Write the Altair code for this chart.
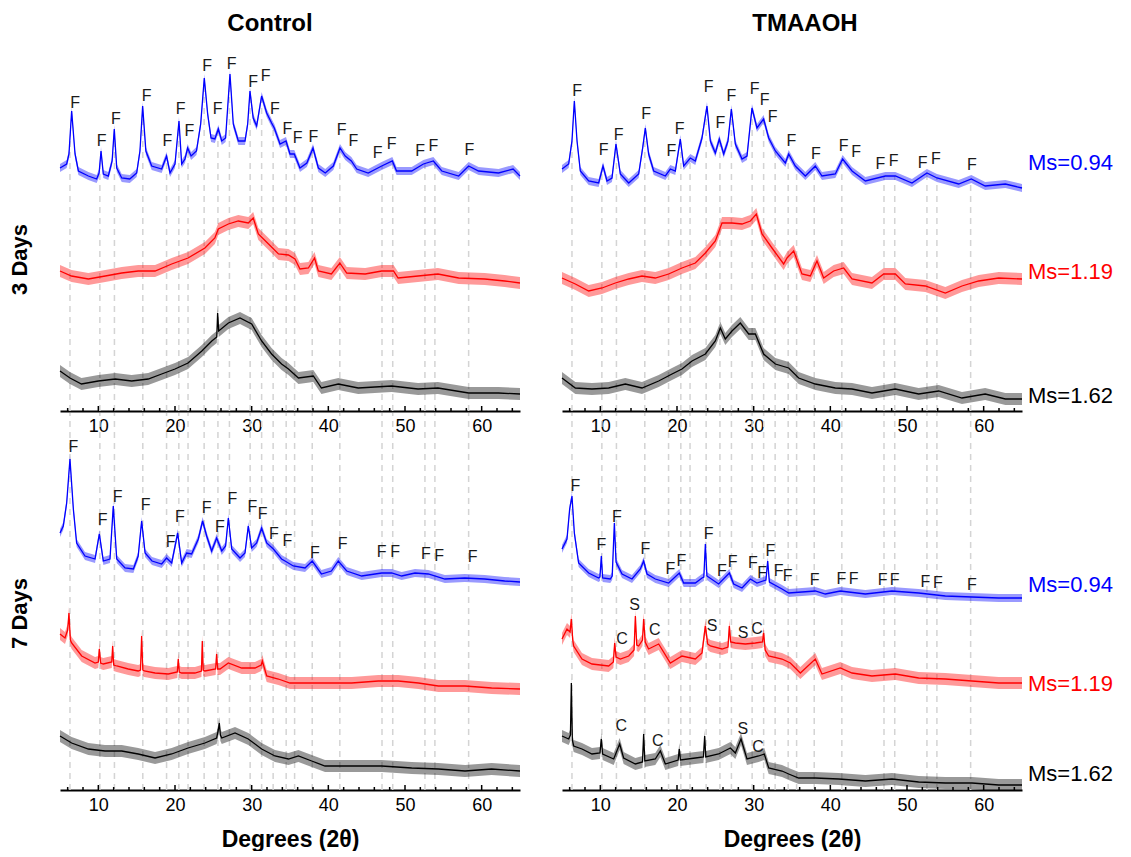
import altair as alt
import pandas as pd

FONT = "Liberation Sans"
W, H = 460, 374

# ---------------- data ----------------
# 2-theta positions of the faujasite (F) reference lines
F_LINES = [6.3, 10.2, 12.1, 15.8, 18.9, 20.5, 21.7, 23.8, 25.6, 27.1, 29.8, 31.3,
           32.8, 34.5, 35.6, 37.9, 41.5, 47.0, 48.4, 52.6, 53.9, 58.3]
MAJOR_TICKS = [10, 20, 30, 40, 50, 60]
MINOR_TICKS = [6, 8, 12, 14, 16, 18, 22, 24, 26, 28, 32, 34, 36, 38, 42, 44, 46, 48,
               52, 54, 56, 58, 62, 64]

MS = ["Ms=0.94", "Ms=1.19", "Ms=1.62"]
MS_COLORS = ["#0000ff", "#ff0000", "#000000"]
NOISE = [4, 6, 6]  # half-width of the noise band of each trace

# stacked intensities (arbitrary units) : (2theta, intensity)
CTL3_094 = [(5.0, 243), (5.87, 247), (6.17, 257), (6.52, 300), (6.96, 257), (7.4, 240), (8.7, 235),
            (9.78, 232), (10.1, 238), (10.35, 260), (10.65, 237), (11.3, 235), (11.8, 250), (12.08, 282),
            (12.4, 243), (13.05, 233), (14.1, 232), (15.0, 238), (15.43, 260), (15.78, 305), (16.2, 260),
            (16.96, 245), (18.26, 242), (18.9, 255), (19.35, 238), (20.0, 247), (20.52, 290), (20.87, 247),
            (21.3, 252), (21.65, 263), (22.1, 255), (22.8, 260), (23.35, 287), (23.82, 333), (24.26, 297),
            (24.7, 273), (25.2, 272), (25.65, 282), (26.1, 270), (26.6, 273), (27.17, 337), (27.6, 287),
            (28.26, 270), (29.13, 270), (29.48, 287), (29.78, 320), (30.2, 293), (30.65, 285), (31.3, 315),
            (31.96, 298), (32.6, 288), (32.95, 283), (33.7, 267), (34.48, 270), (35.0, 257), (35.56, 257),
            (36.3, 243), (37.2, 248), (38.0, 263), (38.7, 243), (39.6, 238), (40.65, 245), (41.52, 263),
            (42.2, 255), (43.0, 250), (43.7, 242), (45.2, 238), (46.96, 245), (48.35, 250), (48.9, 240),
            (50.87, 240), (52.4, 247), (53.7, 250), (54.8, 240), (57.0, 235), (58.3, 245), (59.6, 240),
            (62.2, 238), (64.1, 242), (65.0, 235)]
CTL3_119 = [(5.0, 140), (6.5, 135), (8.7, 132), (10.9, 135), (13.05, 138), (15.2, 140), (17.4, 140),
            (19.57, 147), (21.7, 153), (23.9, 163), (25.2, 173), (25.65, 182), (26.96, 187), (28.26, 190),
            (29.56, 188), (30.2, 193), (30.87, 177), (32.2, 167), (33.5, 157), (34.8, 156), (35.65, 152),
            (36.3, 142), (37.4, 143), (38.2, 153), (38.7, 140), (40.4, 137), (41.5, 148), (42.4, 138),
            (44.8, 137), (46.96, 140), (48.5, 140), (49.1, 133), (51.7, 135), (54.3, 137), (57.0, 133),
            (60.4, 132), (63.0, 130), (65.0, 128)]
CTL3_162 = [(5.0, 40), (6.3, 33), (7.8, 27), (10.0, 30), (12.2, 32), (14.35, 30), (16.5, 32), (18.26, 37),
            (20.0, 42), (21.7, 48), (23.5, 60), (24.8, 70), (25.45, 74), (25.56, 98), (25.7, 80),
            (26.96, 88), (28.48, 93), (30.0, 87), (31.3, 70), (32.6, 57), (33.9, 47), (34.8, 42),
            (36.1, 33), (38.04, 35), (39.1, 23), (41.3, 27), (43.9, 23), (48.26, 25), (51.7, 22),
            (54.3, 23), (58.3, 18), (62.2, 18), (65.0, 17)]

TMA3_094 = [(5.0, 242), (5.87, 247), (6.3, 270), (6.61, 310), (6.96, 270), (7.39, 240), (8.48, 230),
            (9.78, 228), (10.35, 245), (10.87, 230), (11.52, 233), (12.04, 267), (12.61, 237), (13.7, 228),
            (15.0, 237), (15.52, 263), (15.87, 283), (16.3, 257), (16.96, 240), (18.48, 235), (19.13, 242),
            (19.78, 240), (20.43, 272), (20.87, 245), (21.74, 253), (22.39, 250), (23.26, 273), (23.91, 305),
            (24.35, 270), (25.0, 258), (25.52, 272), (26.09, 257), (26.65, 270), (27.09, 302), (27.61, 267),
            (28.48, 252), (29.13, 255), (29.78, 303), (30.43, 283), (31.3, 292), (31.96, 273), (32.83, 260),
            (34.13, 248), (34.57, 257), (35.43, 245), (36.74, 235), (38.04, 245), (38.91, 235), (40.65, 237),
            (41.6, 252), (42.83, 240), (44.57, 230), (47.17, 235), (48.48, 235), (50.65, 228), (52.6, 238),
            (53.91, 233), (56.74, 227), (58.39, 232), (60.2, 225), (62.83, 227), (65.0, 223)]
TMA3_119 = [(5.0, 133), (6.74, 127), (8.48, 120), (10.22, 123), (11.96, 128), (13.7, 132), (15.43, 135),
            (17.17, 133), (18.91, 137), (20.65, 143), (22.39, 148), (23.7, 158), (25.0, 170), (25.87, 188),
            (27.17, 188), (28.48, 187), (29.57, 190), (30.35, 197), (31.09, 177), (32.39, 163), (33.91, 147),
            (34.35, 153), (35.22, 160), (36.3, 137), (37.39, 135), (38.26, 150), (39.13, 133), (40.43, 140),
            (41.74, 143), (42.83, 132), (45.43, 128), (46.96, 137), (48.48, 137), (49.78, 127), (52.39, 125),
            (55.0, 118), (57.17, 125), (59.35, 130), (61.96, 133), (65.0, 132)]
TMA3_162 = [(5.0, 33), (6.74, 23), (8.91, 22), (11.09, 23), (13.26, 27), (15.43, 23), (17.61, 30),
            (19.35, 37), (20.65, 42), (21.96, 50), (23.7, 57), (25.0, 70), (25.65, 83), (26.3, 72),
            (27.17, 80), (28.26, 88), (29.35, 77), (30.22, 77), (31.3, 57), (32.83, 47), (34.57, 43),
            (35.87, 33), (38.04, 27), (40.65, 23), (42.83, 22), (45.43, 18), (48.48, 22), (51.52, 17),
            (54.13, 20), (57.17, 13), (60.2, 17), (62.83, 12), (65.0, 12)]

CTL7_094 = [(5.0, 257), (5.43, 264), (5.87, 287), (6.3, 331), (6.74, 281), (7.17, 247), (8.26, 234),
            (9.57, 231), (10.13, 256), (10.65, 229), (11.52, 231), (11.95, 284), (12.4, 231), (13.48, 222),
            (14.57, 221), (15.2, 234), (15.65, 269), (16.1, 237), (17.0, 229), (18.26, 226), (18.9, 232),
            (19.57, 227), (20.35, 257), (20.87, 227), (21.52, 237), (22.17, 236), (23.04, 251), (23.6, 269),
            (24.13, 254), (24.78, 239), (25.43, 252), (26.1, 239), (26.6, 244), (26.96, 272), (27.4, 241),
            (28.48, 232), (29.13, 237), (29.56, 264), (30.0, 242), (30.65, 247), (31.3, 262), (31.96, 247),
            (32.83, 241), (33.9, 231), (34.35, 229), (35.43, 224), (36.96, 222), (37.9, 229), (39.1, 216),
            (40.4, 219), (41.3, 229), (42.4, 219), (44.35, 214), (46.96, 217), (48.26, 217), (49.57, 214),
            (51.3, 217), (53.04, 216), (55.2, 211), (57.8, 212), (60.4, 211), (63.0, 209), (65.0, 208)]
CTL7_119 = [(5.0, 156), (5.65, 152), (6.0, 160), (6.17, 177), (6.35, 150), (6.52, 147), (7.83, 134),
            (9.57, 127), (10.0, 128), (10.13, 141), (10.3, 127), (10.65, 126), (11.75, 128), (11.87, 144),
            (12.0, 125), (12.4, 124), (13.9, 121), (15.2, 119), (15.5, 120), (15.65, 154), (15.8, 120),
            (16.0, 119), (17.4, 117), (19.13, 116), (20.3, 118), (20.43, 131), (20.56, 118), (20.87, 117),
            (22.6, 117), (23.45, 119), (23.56, 149), (23.68, 120), (23.9, 119), (25.3, 121), (25.43, 136),
            (25.56, 121), (25.87, 121), (26.96, 127), (28.7, 122), (30.43, 122), (31.25, 125), (31.39, 129),
            (31.96, 114), (33.48, 111), (35.0, 107), (36.96, 107), (39.57, 107), (43.04, 107), (46.52, 109),
            (49.13, 109), (51.74, 107), (54.35, 104), (57.83, 104), (61.3, 102), (65.0, 101)]
CTL7_162 = [(5.0, 54), (6.52, 47), (8.7, 41), (10.87, 39), (13.05, 39), (15.2, 36), (17.4, 32), (19.57, 36),
            (21.7, 42), (23.9, 47), (25.43, 52), (25.65, 60), (25.78, 67), (25.92, 55), (26.1, 52),
            (27.83, 57), (29.56, 51), (31.3, 41), (33.04, 34), (34.8, 31), (36.1, 34), (37.83, 29),
            (39.57, 24), (43.04, 24), (46.96, 24), (50.87, 22), (54.35, 21), (57.83, 19), (61.3, 21),
            (65.0, 19)]

TMA7_094 = [(5.0, 241), (5.65, 251), (6.0, 281), (6.3, 294), (6.61, 257), (7.17, 227), (8.48, 217),
            (9.78, 212), (9.95, 213), (10.13, 234), (10.3, 212), (11.3, 211), (11.55, 214), (11.83, 267),
            (12.05, 228), (12.83, 216), (14.13, 211), (15.22, 221), (15.65, 229), (16.09, 216), (17.17, 211),
            (18.91, 207), (20.3, 217), (20.87, 207), (22.39, 207), (23.26, 212), (23.5, 213), (23.7, 246),
            (23.9, 214), (25.43, 206), (26.83, 217), (27.39, 206), (28.48, 202), (29.57, 211), (30.43, 207),
            (31.6, 210), (31.83, 229), (32.05, 208), (33.7, 201), (34.57, 197), (38.04, 199), (39.35, 196),
            (41.3, 199), (44.57, 196), (48.04, 199), (51.52, 197), (55.0, 194), (58.48, 193), (61.96, 192),
            (65.0, 192)]
TMA7_119 = [(5.0, 151), (5.65, 161), (6.05, 158), (6.22, 171), (6.4, 150), (6.52, 144), (7.61, 131),
            (8.91, 126), (11.09, 124), (11.7, 128), (11.87, 147), (12.05, 133), (12.61, 131), (13.7, 134),
            (14.4, 140), (14.57, 174), (14.75, 145), (15.0, 144), (15.5, 150), (15.65, 171), (15.85, 148),
            (16.3, 141), (17.61, 146), (19.13, 127), (20.65, 134), (22.39, 131), (23.26, 137), (23.7, 164),
            (24.0, 146), (24.35, 144), (25.87, 141), (26.65, 143), (26.83, 164), (27.0, 148), (27.61, 147),
            (28.91, 146), (30.22, 147), (31.15, 148), (31.3, 157), (31.5, 140), (31.96, 134), (33.7, 131),
            (34.78, 127), (36.09, 117), (38.04, 131), (38.91, 116), (41.3, 122), (42.83, 117), (45.43, 114),
            (48.48, 116), (51.52, 112), (55.0, 111), (58.48, 109), (61.96, 107), (65.0, 107)]
TMA7_162 = [(5.0, 54), (5.87, 51), (6.1, 55), (6.22, 107), (6.35, 50), (6.52, 44), (7.61, 41), (8.91, 36),
            (9.95, 37), (10.13, 51), (10.3, 36), (11.74, 31), (12.52, 46), (13.04, 32), (14.57, 26),
            (15.5, 28), (15.65, 56), (15.8, 29), (17.17, 31), (17.83, 39), (18.48, 26), (20.15, 30),
            (20.3, 41), (20.45, 30), (22.39, 32), (23.45, 33), (23.61, 54), (23.75, 33), (25.43, 36),
            (26.96, 42), (27.61, 37), (28.35, 51), (29.13, 31), (30.65, 34), (31.39, 36), (31.96, 22),
            (33.7, 19), (34.57, 16), (35.87, 12), (38.04, 12), (41.09, 11), (44.57, 9), (48.04, 11),
            (51.52, 8), (55.0, 7), (58.48, 7), (61.96, 5), (65.0, 5)]

# phase labels: (text, 2theta, height)
CTL3_LABELS = [("F", 6.96, 308), ("F", 10.43, 270), ("F", 12.3, 292), ("F", 16.3, 315), ("F", 19.0, 270),
               ("F", 20.74, 302), ("F", 21.87, 280), ("F", 24.2, 345), ("F", 25.56, 302), ("F", 27.4, 347),
               ("F", 30.2, 329), ("F", 31.83, 335), ("F", 33.04, 302), ("F", 34.65, 282), ("F", 36.0, 273),
               ("F", 38.04, 274), ("F", 41.74, 281), ("F", 43.26, 270), ("F", 46.44, 258), ("F", 48.26, 267),
               ("F", 51.96, 260), ("F", 53.7, 265), ("F", 58.4, 261)]
TMA3_LABELS = [("F", 6.96, 320), ("F", 10.43, 261), ("F", 12.39, 276), ("F", 15.96, 297), ("F", 19.26, 260),
               ("F", 20.35, 282), ("F", 24.13, 324), ("F", 25.65, 288), ("F", 27.09, 315), ("F", 30.13, 322),
               ("F", 31.43, 311), ("F", 32.48, 294), ("F", 34.91, 270), ("F", 38.13, 257), ("F", 41.74, 265),
               ("F", 43.35, 259), ("F", 46.52, 247), ("F", 48.26, 250), ("F", 52.04, 248), ("F", 53.78, 252),
               ("F", 58.48, 246)]
CTL7_LABELS = [("F", 6.74, 343), ("F", 10.57, 270), ("F", 12.52, 293), ("F", 16.17, 285), ("F", 19.44, 248),
               ("F", 20.65, 273), ("F", 24.13, 282), ("F", 25.87, 263), ("F", 27.48, 291), ("F", 30.08, 283),
               ("F", 31.43, 276), ("F", 32.9, 256), ("F", 34.65, 249), ("F", 38.26, 237), ("F", 41.87, 246),
               ("F", 46.96, 238), ("F", 48.7, 238), ("F", 52.74, 236), ("F", 54.44, 234), ("F", 58.83, 233)]
TMA7_LABELS = [("F", 6.74, 304), ("F", 10.13, 245), ("F", 12.17, 273), ("F", 15.87, 241), ("F", 19.13, 221),
               ("F", 20.57, 229), ("F", 24.13, 256), ("F", 25.87, 219), ("F", 27.26, 228), ("F", 29.91, 227),
               ("F", 31.09, 217), ("F", 32.17, 239), ("F", 33.26, 219), ("F", 34.43, 214), ("F", 37.96, 210),
               ("F", 41.43, 211), ("F", 43.04, 211), ("F", 46.83, 210), ("F", 48.39, 210), ("F", 52.39, 208),
               ("F", 54.04, 207), ("F", 58.48, 205),
               ("C", 12.83, 151), ("S", 14.48, 185), ("C", 17.09, 160), ("S", 24.57, 164), ("S", 28.61, 157),
               ("C", 30.43, 161),
               ("C", 12.74, 64), ("C", 17.48, 49), ("S", 28.57, 61), ("C", 30.57, 43)]

# height at which each "Ms=" label sits at the right end of the traces
MS_LABEL_Y_3D = [248, 139, 15]
MS_LABEL_Y_7D = [205, 106, 16]

# ---------------- chart building ----------------
Y_MAX = 374
XS = alt.Scale(domain=[5, 65], nice=False, zero=False)
YS = alt.Scale(domain=[0, Y_MAX], nice=False, zero=False)
CS = alt.Scale(domain=MS, range=MS_COLORS)


def traces_df(series):
    rows = []
    for ms, pairs, nz in zip(MS, series, NOISE):
        for x, y in pairs:
            rows.append({"x": x, "y": y, "lo": y - nz, "hi": y + nz, "ms": ms})
    return pd.DataFrame(rows)


def panel(series, labels, ms_y, title, dx, ytitle, ytitle_y, xtitle, top):
    xaxis = alt.Axis(values=MAJOR_TICKS, title=xtitle, grid=False, ticks=False,
                     domainColor="black", domainWidth=2, labelFont=FONT, labelFontSize=18,
                     labelColor="black", labelPadding=6, labelFlush=False,
                     titleFont=FONT, titleFontSize=23, titleFontWeight="bold",
                     titleColor="black", titlePadding=14)
    if ytitle:
        yaxis = alt.Axis(title=ytitle, labels=False, ticks=False, domain=False, grid=False,
                         titleFont=FONT, titleFontSize=22, titleFontWeight="bold",
                         titleColor="black", titleX=-41, titleY=ytitle_y,
                         titleBaseline="middle", titleAlign="center")
    else:
        yaxis = None

    def X(f="x"):
        return alt.X(f + ":Q", scale=XS, axis=xaxis)

    def Y(f="y"):
        return alt.Y(f + ":Q", scale=YS, axis=yaxis, stack=None)

    tdf = traces_df(series)
    color = alt.Color("ms:N", scale=CS, legend=None)

    layers = []
    ref = alt.Chart(pd.DataFrame({"x": F_LINES})).mark_rule(
        color="#d4d4d4", strokeDash=[6, 5], strokeWidth=1.5
    ).encode(x=X(), y=alt.value(H), y2=alt.value(0 if top else -3))
    layers.append(ref)
    if top:
        # white cover above the top trace, so the reference lines stop at it
        mask = alt.Chart(pd.DataFrame(series[0], columns=["x", "y"])).mark_area(
            fill="white", fillOpacity=1, opacity=1
        ).encode(x=X(), y=Y(), y2=alt.datum(Y_MAX))
        layers.append(mask)
    band = alt.Chart(tdf).mark_area(opacity=0.4, interpolate="linear").encode(
        x=X(), y=Y("lo"), y2="hi:Q", color=color, detail="ms:N")
    line = alt.Chart(tdf).mark_line(strokeWidth=1.3).encode(
        x=X(), y=Y(), color=color, detail="ms:N")
    layers += [band, line]

    major = alt.Chart(pd.DataFrame({"x": MAJOR_TICKS})).mark_rule(color="black", strokeWidth=1.5).encode(
        x=X(), y=alt.value(H), y2=alt.value(H - 5))
    minor = alt.Chart(pd.DataFrame({"x": MINOR_TICKS})).mark_rule(color="black", strokeWidth=1.5).encode(
        x=X(), y=alt.value(H), y2=alt.value(H - 3))
    layers += [major, minor]

    ldf = pd.DataFrame(labels, columns=["t", "x", "y"])
    lab = alt.Chart(ldf).mark_text(font=FONT, fontSize=16, color="#1a1a1a", align="center",
                                   baseline="middle").encode(x=X(), y=Y(), text="t:N")
    layers.append(lab)

    if ms_y is not None:
        mdf = pd.DataFrame({"ms": MS, "y": ms_y})
        ms_lab = alt.Chart(mdf).mark_text(font=FONT, fontSize=22, align="left",
                                          baseline="middle").encode(
            x=alt.value(W + 6), y=Y(), text="ms:N", color=color)
        layers.append(ms_lab)

    props = dict(width=W, height=H)
    if title:
        props["title"] = alt.TitleParams(title, font=FONT, fontSize=24, fontWeight="bold",
                                         color="black", anchor="middle", dx=dx, offset=0)
    return alt.layer(*layers).properties(**props)


p1 = panel([CTL3_094, CTL3_119, CTL3_162], CTL3_LABELS, None, "Control", -20,
           "3 Days", 222, None, True)
p2 = panel([TMA3_094, TMA3_119, TMA3_162], TMA3_LABELS, MS_LABEL_Y_3D, "TMAAOH", 13,
           None, 0, None, True)
p3 = panel([CTL7_094, CTL7_119, CTL7_162], CTL7_LABELS, None, None, 0,
           "7 Days", 197, "Degrees (2θ)", False)
p4 = panel([TMA7_094, TMA7_119, TMA7_162], TMA7_LABELS, MS_LABEL_Y_7D, None, 0,
           None, 0, "Degrees (2θ)", False)

chart = alt.concat(p1, p2, p3, p4, columns=2, spacing={"row": 5, "column": 42},
                   bounds="flush", padding={"left": 0, "top": 4, "right": 0, "bottom": 0},
                   background="white").configure_view(stroke=None)

chart.save("out.html", embed_options={"renderer": "svg", "actions": False})
